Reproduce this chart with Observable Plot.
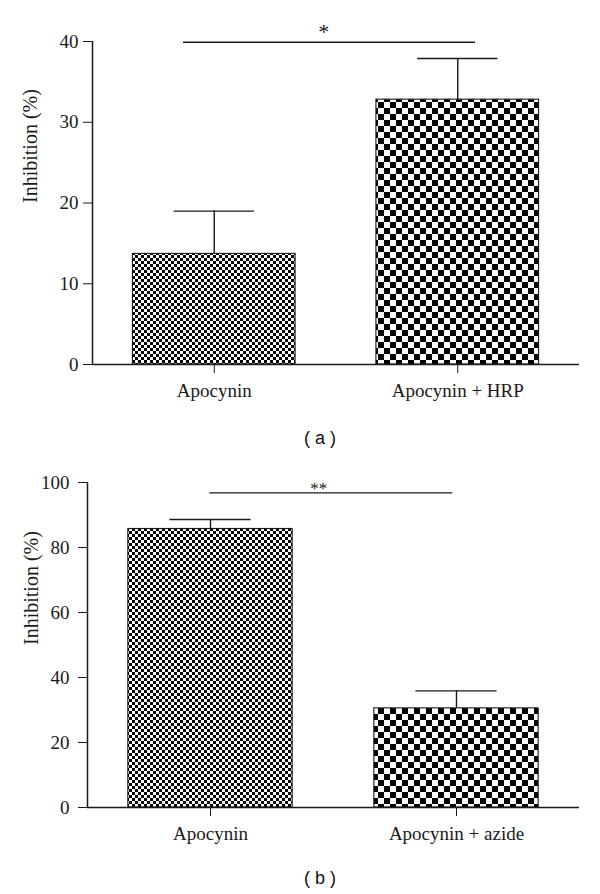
<!DOCTYPE html>
<html>
<head>
<meta charset="utf-8">
<script src="https://cdn.jsdelivr.net/npm/d3@7"></script>
<script src="https://cdn.jsdelivr.net/npm/@observablehq/plot@0.6"></script>
<style>
  html, body { margin: 0; padding: 0; background: white; }
  #wrap { position: relative; width: 600px; height: 894px; overflow: hidden; background: white; }
  .panel { position: absolute; left: 0; }
  #wrap svg, #wrap svg text { font-family: "Liberation Serif", serif !important; }
  .cap { position: absolute; left: 0; width: 640px; text-align: center; font-family: "Liberation Sans", Arial, sans-serif; font-size: 18px; line-height: 22px; color: #111; }
</style>
</head>
<body>
<div id="wrap">
  <div id="pa" class="panel" style="top:0px"></div>
  <div class="cap" style="top:427px">( a )</div>
  <div id="pb" class="panel" style="top:450px"></div>
  <div class="cap" style="top:867px">( b )</div>
</div>
<script>
// ---------- Data (panel a) ----------
const catsA = ["Apocynin", "Apocynin + HRP"];
const meanA = [13.7, 32.8];
const errA = [5.3, 5.1];
const ticksA = [0, 10, 20, 30, 40];
const sigSpanA = [0.874, 2.073];
const sigLevelA = 39.9;
const sigLabelA = "*";
const sigLabelPosA = 1.45;

// ---------- Data (panel b) ----------
const catsB = ["Apocynin", "Apocynin + azide"];
const meanB = [85.7, 30.5];
const errB = [2.9, 5.4];
const ticksB = [0, 20, 40, 60, 80, 100];
const sigSpanB = [0.997, 1.985];
const sigLevelB = 96.8;
const sigLabelB = "**";
const sigLabelPosB = 1.44;

const yLabel = "Inhibition (%)";

const INK = "#1a1a1a";
const SERIF = "Liberation Serif";

function addPatterns(svg, pats) {
  const defs = d3.select(svg).insert("defs", ":first-child");
  for (const {id, size} of pats) {
    const p = defs.append("pattern").attr("id", id)
      .attr("patternUnits", "userSpaceOnUse")
      .attr("width", 2 * size).attr("height", 2 * size);
    p.append("rect").attr("width", 2 * size).attr("height", 2 * size).attr("fill", "white");
    p.append("rect").attr("width", size).attr("height", size).attr("fill", "black");
    p.append("rect").attr("x", size).attr("y", size).attr("width", size).attr("height", size).attr("fill", "black");
  }
}

function panel({cats, mean, err, ticks, yMax, sigSpan, sigLevel, sigLabel, sigLabelPos,
                height, mt, mb, ml, mr, ytickSize, ytickPad, ylabelDx, patIds, starSize, starDy}) {
  const data = cats.map((c, i) => ({cat: c, pos: i + 1, mean: mean[i], err: err[i], top: mean[i] + err[i]}));
  const hw = 0.334, cw = 0.165;
  const bars = data.map((d, i) => Plot.rectY([d], {
    x1: r => r.pos - hw, x2: r => r.pos + hw, y1: 0, y2: "mean",
    fill: `url(#${patIds[i]})`, stroke: INK, strokeWidth: 1.1
  }));
  return Plot.plot({
    width: 600, height,
    marginTop: mt, marginBottom: mb, marginLeft: ml, marginRight: mr,
    style: {fontFamily: SERIF, fontSize: "19px", color: INK, background: "white"},
    x: {domain: [0.5, 2.5], ticks: [1, 2], tickFormat: v => cats[v - 1], tickSize: 9, tickPadding: 10, label: null},
    y: {domain: [0, yMax], ticks, tickSize: ytickSize, tickPadding: ytickPad, label: null},
    marks: [
      ...bars,
      Plot.ruleX(data, {x: "pos", y1: "mean", y2: "top", stroke: INK, strokeWidth: 1.4}),
      Plot.ruleY(data, {y: "top", x1: d => d.pos - cw, x2: d => d.pos + cw, stroke: INK, strokeWidth: 1.4}),
      Plot.ruleX([0.5], {y1: 0, y2: yMax, stroke: INK, strokeWidth: 1.5}),
      Plot.ruleY([0], {stroke: INK, strokeWidth: 1.5}),
      Plot.ruleY([sigLevel], {x1: sigSpan[0], x2: sigSpan[1], stroke: INK, strokeWidth: 1.4}),
      Plot.text([sigLabel], {x: sigLabelPos, y: sigLevel, text: d => d, fontSize: starSize, dy: starDy, fill: INK, fontFamily: SERIF}),
      Plot.text([yLabel], {frameAnchor: "left", rotate: -90, dx: ylabelDx, text: d => d, fontSize: 20, fill: INK, fontFamily: SERIF})
    ]
  });
}

const svgA = panel({cats: catsA, mean: meanA, err: errA, ticks: ticksA, yMax: 40,
  sigSpan: sigSpanA, sigLevel: sigLevelA, sigLabel: sigLabelA, sigLabelPos: sigLabelPosA,
  height: 410, mt: 41, mb: 46, ml: 92, mr: 21, ytickSize: 9, ytickPad: 5, ylabelDx: -62,
  patIds: ["pA1", "pA2"], starSize: 22, starDy: -10});
addPatterns(svgA, [{id: "pA1", size: 3}, {id: "pA2", size: 6}]);
document.getElementById("pa").appendChild(svgA);

const svgB = panel({cats: catsB, mean: meanB, err: errB, ticks: ticksB, yMax: 100,
  sigSpan: sigSpanB, sigLevel: sigLevelB, sigLabel: sigLabelB, sigLabelPos: sigLabelPosB,
  height: 400, mt: 32, mb: 43, ml: 87, mr: 21, ytickSize: 9, ytickPad: 9, ylabelDx: -56,
  patIds: ["pB1", "pB2"], starSize: 17, starDy: -4});
addPatterns(svgB, [{id: "pB1", size: 3}, {id: "pB2", size: 6}]);
document.getElementById("pb").appendChild(svgB);
</script>
</body>
</html>
